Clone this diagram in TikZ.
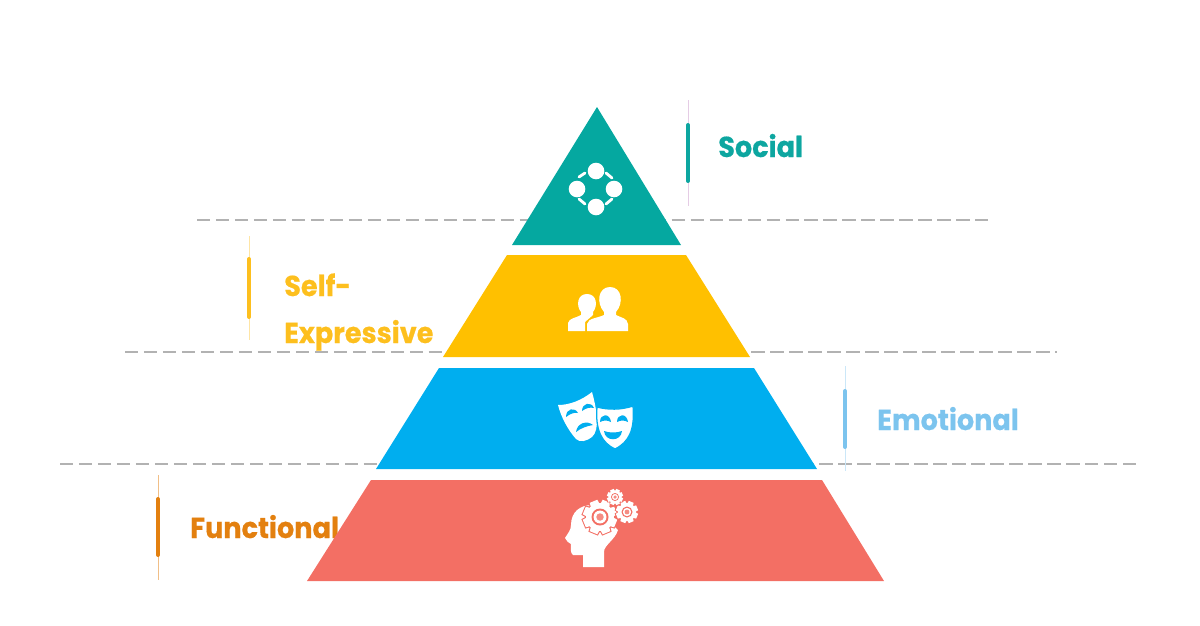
\documentclass[tikz,border=0pt]{standalone}
\usepackage{fontspec}
\newfontfamily\labelfont{Poppins}[FakeStretch=0.94,FakeBold=0.5]
\definecolor{tealc}{HTML}{05A8A0}
\definecolor{yellowc}{HTML}{FFC000}
\definecolor{bluec}{HTML}{00AEEF}
\definecolor{redc}{HTML}{F36F64}
\definecolor{tealt}{HTML}{0DA6A0}
\definecolor{yellowt}{HTML}{FDBF1E}
\definecolor{bluet}{HTML}{7CC4EE}
\definecolor{oranget}{HTML}{E3800F}
\tikzset{
    level/.style={draw=none,fill=#1},
    sep/.style={draw=black!30,line width=1.1pt,dash pattern=on 9.5pt off 4pt},
    tag/.style={anchor=base west,inner sep=0pt,font=\labelfont\bfseries\fontsize{20.5}{33.4}\selectfont,text=#1},
    thick tick/.style={draw=#1,line width=2.8pt,line cap=round},
    thin tick/.style={draw=#1,line width=.6pt},
    icon/.style={fill=white,draw=none},
    link/.style={white,line width=2pt,line cap=round}
}
\newcommand{\cog}[4]{
    \begin{scope}[shift={(#1,#2)}]
        \foreach \a in {0,45,...,315}
            \fill[#4,rotate=\a+22.5] (-#3*0.42,0) -- (-#3*0.3,#3+1) -- (#3*0.3,#3+1) -- (#3*0.42,0) -- cycle;
        \fill[#4] (0,0) circle [radius=#3*0.82+1];
        \foreach \a in {0,45,...,315}
            \fill[white,rotate=\a+22.5] (-#3*0.36,0) -- (-#3*0.24,#3) -- (#3*0.24,#3) -- (#3*0.36,0) -- cycle;
        \fill[white] (0,0) circle [radius=#3*0.82];
        \fill[#4] (0,0) circle [radius=#3*0.5];
        \fill[white] (0,0) circle [radius=#3*0.38];
        \fill[#4!80!white] (0,0) circle [radius=#3*0.22];
    \end{scope}
}

\begin{document}
\begin{tikzpicture}[x=0.025cm,y=-0.025cm]
    \useasboundingbox (0,0) rectangle (1200,625);
    % dashed lines between the levels
    \coordinate (s1a) at (197,220);
    \coordinate (s1b) at (988,220);
    \coordinate (s2a) at (125,352);
    \coordinate (s2b) at (1057,352);
    \coordinate (s3a) at (60,464);
    \coordinate (s3b) at (1137,464);
    \draw[sep] (s1a) -- (s1b);
    \draw[sep] (s2a) -- (s2b);
    \draw[sep] (s3a) -- (s3b);

    % labels
    \node[tag=tealt] (social) at (718,157) {Social};
    \node[tag=yellowt,align=left] (selfexp) at (284,343) {Self-\\Expressive};
    \node[tag=bluet] (emotional) at (877,430) {Emotional};
    \node[tag=oranget] (functional) at (190,538) {Functional};

    % ticks beside the labels
    \coordinate (t1a) at (688,100);
    \coordinate (t1b) at (688,206);
    \coordinate (t1c) at (688,125);
    \coordinate (t1d) at (688,181);
    \coordinate (t2a) at (249,236);
    \coordinate (t2b) at (249,340);
    \coordinate (t2c) at (249,259);
    \coordinate (t2d) at (249,317);
    \coordinate (t3a) at (845,366);
    \coordinate (t3b) at (845,471);
    \coordinate (t3c) at (845,391);
    \coordinate (t3d) at (845,447);
    \coordinate (t4a) at (158,475);
    \coordinate (t4b) at (158,580);
    \coordinate (t4c) at (158,499);
    \coordinate (t4d) at (158,555);
    \draw[thin tick=violet!20] (t1a) -- (t1b);
    \draw[thick tick=tealt] (t1c) -- (t1d);
    \draw[thin tick=yellowt!40] (t2a) -- (t2b);
    \draw[thick tick=yellowt] (t2c) -- (t2d);
    \draw[thin tick=bluet!40] (t3a) -- (t3b);
    \draw[thick tick=bluet] (t3c) -- (t3d);
    \draw[thin tick=oranget!50] (t4a) -- (t4b);
    \draw[thick tick=oranget] (t4c) -- (t4d);

    % pyramid
    \fill[level=tealc] (597,107) -- (681,245) -- (512,245) -- cycle;
    \fill[level=yellowc] (507,255) -- (686,255) -- (750,357) -- (443,357) -- cycle;
    \fill[level=bluec] (439,368) -- (754,368) -- (817,469) -- (376,469) -- cycle;
    \fill[level=redc] (371,480) -- (822,480) -- (884,581) -- (307,581) -- cycle;

    % network icon
    \foreach \p in {(596,171),(577,189),(614,189),(596,207)}
        \fill[icon] \p circle [radius=8.3];
    \draw[link] (579,177) -- (585,173);
    \draw[link] (606,173) -- (612,178);
    \draw[link] (579,199) -- (585,204);
    \draw[link] (606,204) -- (612,199);

    % people icon
    \fill[icon] (568,331) -- (568,323) .. controls (569,318) and (576,318) .. (581,315)
        -- (581,312) .. controls (576,306) and (577,294) .. (587,294)
        .. controls (597,294) and (598,306) .. (593,312) -- (593,315) -- (585,322) -- (585,331) -- cycle;
    \fill[icon] (587,331) -- (587,324) .. controls (588,318) and (598,318) .. (604,315)
        -- (604,312) .. controls (596,303) and (598,287) .. (610,287)
        .. controls (622,287) and (624,303) .. (616,312) -- (616,315)
        .. controls (622,318) and (627,318) .. (628,324) -- (628,331) -- cycle;

    % masks icon
    \fill[icon] (558,405) .. controls (570,405) and (582,400) .. (592,392)
        .. controls (597,410) and (600,430) .. (592,437)
        .. controls (587,441) and (580,443) .. (576,439)
        .. controls (568,430) and (561,417) .. (558,405) -- cycle;
    \fill[bluec] (566,417) .. controls (566,408) and (575,407) .. (578,413) .. controls (574,412) and (570,414) .. (566,417) -- cycle;
    \fill[bluec] (582,411) .. controls (582,403) and (591,401) .. (594,408) .. controls (590,407) and (586,408) .. (582,411) -- cycle;
    \fill[bluec] (576,432) .. controls (577,423) and (587,420) .. (593,425) .. controls (587,426) and (581,428) .. (576,432) -- cycle;
    \fill[icon,draw=bluec,line width=.9pt] (597,407) .. controls (608,410) and (621,410) .. (633,406)
        .. controls (635,430) and (629,442) .. (615,449)
        .. controls (602,443) and (595,430) .. (597,407) -- cycle;
    \fill[bluec] (600,422) .. controls (600,413) and (610,413) .. (611,422) .. controls (607,420) and (604,420) .. (600,422) -- cycle;
    \fill[bluec] (617,422) .. controls (617,413) and (627,413) .. (628,422) .. controls (624,420) and (621,420) .. (617,422) -- cycle;
    \fill[bluec] (604,431) .. controls (609,433) and (617,433) .. (622,431) .. controls (621,442) and (605,442) .. (604,431) -- cycle;

    % head icon
    \fill[icon] (583,567) -- (583,555) -- (573,555) .. controls (570,553) and (571,548) .. (571,544)
        .. controls (568,543) and (567,541) .. (565,538)
        .. controls (568,533) and (571,530) .. (571,525)
        .. controls (571,512) and (580,505) .. (592,505) -- (618,530)
        .. controls (615,540) and (604,545) .. (604,552) -- (604,567) -- cycle;
    \cog{600}{517}{17}{redc}
    \cog{627}{512}{11}{redc}
    \cog{615}{497}{8}{redc}
\end{tikzpicture}
\end{document}
